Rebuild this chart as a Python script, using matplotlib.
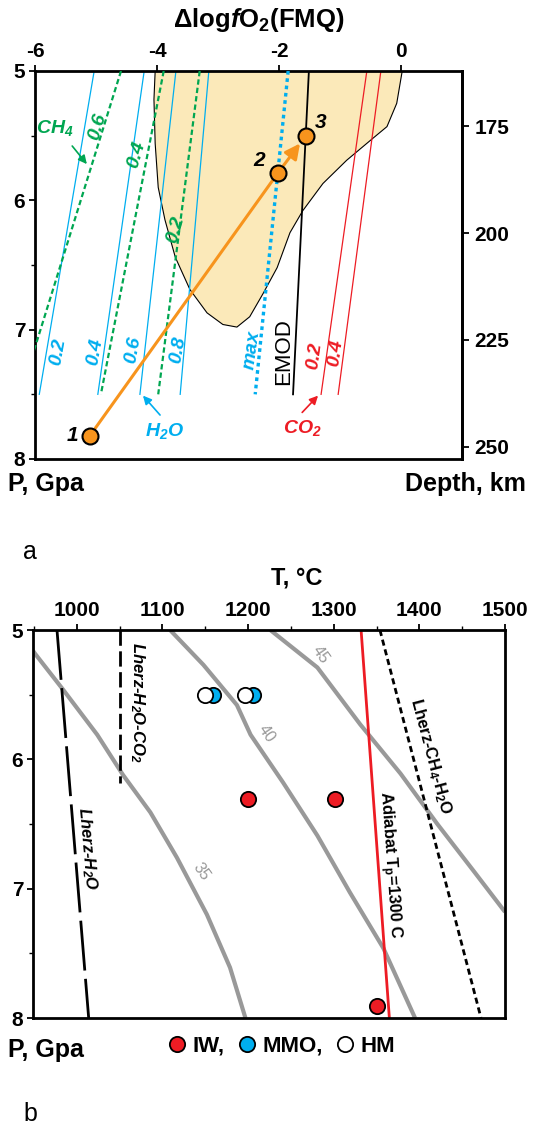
import matplotlib
matplotlib.use('Agg')
import matplotlib.pyplot as plt
from matplotlib.lines import Line2D
from matplotlib.ticker import MultipleLocator

plt.rcParams['font.family'] = ['Liberation Sans', 'DejaVu Sans']
plt.rcParams['axes.unicode_minus'] = False
plt.rcParams['mathtext.default'] = 'regular'
plt.rcParams['mathtext.fontset'] = 'custom'
plt.rcParams['mathtext.it'] = 'Liberation Sans:italic:bold'
plt.rcParams['mathtext.rm'] = 'Liberation Sans:bold'

# ---------------- panel a data ----------------
fmq_ticks = [-6, -4, -2, 0]
p_ticks = [5, 6, 7, 8]
depth_ticks = [175, 200, 225, 250]

# isopleths: dFMQ at 5 GPa (top) and at 7.5 GPa (bottom)
h2o_labels = ['0.2', '0.4', '0.6', '0.8']
h2o_top = [-5.03, -4.21, -3.69, -3.15]
h2o_bot = [-5.93, -4.97, -4.28, -3.62]
ch4_labels = ['0.6', '0.4', '0.2']
ch4_top = [-4.59, -3.89, -3.30]
ch4_bot = [-6.24, -4.92, -3.98]
co2_labels = ['0.2', '0.4']
co2_top = [-0.56, -0.33]
co2_bot = [-1.31, -1.03]
max_top, max_bot = -1.85, -2.39
emod_top, emod_bot = -1.51, -1.77
iso_p = [5.0, 7.5]

# field outline
field_x = [-4.03, -4.05, -4.03, -3.98, -3.87, -3.70, -3.46, -3.18, -2.92, -2.69, -2.48,
           -2.26, -2.03, -1.82, -1.61, -1.28, -0.89, -0.46, -0.23, -0.07, 0.02]
field_p = [5.00, 5.22, 5.56, 5.90, 6.15, 6.44, 6.69, 6.87, 6.96, 6.98, 6.90,
           6.72, 6.52, 6.25, 6.08, 5.87, 5.69, 5.52, 5.43, 5.25, 5.00]

# path points 1-3
path_x = [-5.10, -2.02, -1.56]
path_p = [7.82, 5.79, 5.50]
path_names = ['1', '2', '3']

# ---------------- panel b data ----------------
t_ticks = [1000, 1100, 1200, 1300, 1400, 1500]
geo_labels = ['35', '40', '45']
geo35_t = [949, 951, 984, 1024, 1054, 1086, 1117, 1152, 1179, 1197]
geo35_p = [5.16, 5.18, 5.46, 5.81, 6.12, 6.41, 6.76, 7.20, 7.61, 8.0]
geo40_t = [1109, 1148, 1187, 1203, 1241, 1281, 1319, 1358, 1395]
geo40_p = [5.0, 5.27, 5.58, 5.81, 6.18, 6.59, 7.03, 7.46, 8.0]
geo45_t = [1226, 1281, 1331, 1378, 1421, 1463, 1500]
geo45_p = [5.0, 5.29, 5.73, 6.11, 6.50, 6.86, 7.18]

lherz_h2o_t = [977, 1014]
lherz_h2o_p = [5.0, 8.0]
lherz_h2o_co2_t = [1051, 1051]
lherz_h2o_co2_p = [5.0, 6.18]
lherz_ch4_t = [1354, 1472]
lherz_ch4_p = [5.0, 8.0]
adiabat_t = [1332, 1365]
adiabat_p = [5.0, 8.0]

iw_t = [1200, 1301, 1351]
iw_p = [6.31, 6.31, 7.91]
mmo_t = [1159, 1206]
mmo_p = [5.5, 5.5]
hm_t = [1150, 1197]
hm_p = [5.5, 5.5]

BLUE = '#00aeef'
GREEN = '#00a651'
RED = '#ed1c24'
ORANGE = '#f7941d'
TAN = '#fbe9b9'
GREY = '#999999'

W, H = 533, 1129
fig = plt.figure(figsize=(W / 100, H / 100), dpi=100)


def style_axes(ax):
    for s in ax.spines.values():
        s.set_linewidth(2)
    ax.tick_params(axis='both', which='major', direction='out', length=4, width=1.3,
                   labelsize=15, pad=3)
    ax.tick_params(axis='y', which='minor', direction='out', length=3, width=1)
    for lab in ax.get_xticklabels() + ax.get_yticklabels():
        lab.set_fontweight('bold')


# ================= panel a =================
ax1 = fig.add_axes([35 / W, 1 - 459 / H, 427 / W, 388 / H])
ax1.set_xlim(-6, 1)
ax1.set_ylim(8, 5)
ax1.xaxis.tick_top()
ax1.set_xticks(fmq_ticks)
ax1.set_yticks(p_ticks)
ax1.yaxis.set_minor_locator(MultipleLocator(0.5))
style_axes(ax1)

ax1.fill(field_x, field_p, facecolor=TAN, edgecolor='black', linewidth=0.8,
         joinstyle='round', zorder=1)

for t, b in zip(h2o_top, h2o_bot):
    ax1.plot([t, b], iso_p, color=BLUE, lw=0.9, zorder=2)
for t, b in zip(ch4_top, ch4_bot):
    ax1.plot([t, b], iso_p, color=GREEN, lw=1.6, dashes=(2.4, 1.4), zorder=3)
for t, b in zip(co2_top, co2_bot):
    ax1.plot([t, b], iso_p, color=RED, lw=0.9, zorder=2)
ax1.plot([max_top, max_bot], iso_p, color=BLUE, lw=2.4, dashes=(1.1, 1.1), zorder=3)
ax1.plot([emod_top, emod_bot], iso_p, color='black', lw=1.3, zorder=3)

# path 1 -> 3
ax1.plot(path_x[:2], path_p[:2], color=ORANGE, lw=2.2, zorder=4)
ax1.annotate('', xy=(path_x[2], path_p[2]), xytext=(path_x[1], path_p[1]),
             arrowprops=dict(arrowstyle='-|>,head_length=0.9,head_width=0.45',
                             color=ORANGE, lw=2.2, shrinkA=0, shrinkB=7), zorder=4)
ax1.plot(path_x, path_p, 'o', ms=11.5, mfc=ORANGE, mec='black', mew=1.5, zorder=5)
for (dx, dy), x, p, n in zip([(-0.28, 0.0), (-0.3, -0.1), (0.24, -0.1)], path_x, path_p, path_names):
    ax1.text(x + dx, p + dy, n, fontsize=15, fontweight='bold', style='italic',
             ha='center', va='center', zorder=6)

lab = dict(fontsize=14, fontweight='bold', style='italic', ha='center', va='center')
ch4_lab_pos = [(-4.98, 5.43), (-4.33, 5.65), (-3.70, 6.23)]
for (x, p), t in zip(ch4_lab_pos, ch4_labels):
    ax1.text(x, p, t, color=GREEN, rotation=74, **lab)
h2o_lab_pos = [(-5.62, 7.17), (-5.02, 7.17), (-4.39, 7.16), (-3.66, 7.16)]
for (x, p), t in zip(h2o_lab_pos, h2o_labels):
    ax1.text(x, p, t, color=BLUE, rotation=80, **lab)
ax1.text(-2.44, 7.16, 'max', color=BLUE, rotation=82, **lab)
co2_lab_pos = [(-1.41, 7.2), (-1.08, 7.18)]
for (x, p), t in zip(co2_lab_pos, co2_labels):
    ax1.text(x, p, t, color=RED, rotation=82, **lab)
ax1.text(-1.93, 7.17, 'EMOD', fontsize=16, rotation=90, ha='center', va='center')

ax1.text(-5.67, 5.44, 'CH$_4$', color=GREEN, **lab)
ax1.annotate('', xy=(-5.15, 5.72), xytext=(-5.39, 5.58),
             arrowprops=dict(arrowstyle='-|>,head_length=0.5,head_width=0.25',
                             color=GREEN, lw=1.2, shrinkA=0, shrinkB=0))
ax1.text(-3.87, 7.78, 'H$_2$O', color=BLUE, **lab)
ax1.annotate('', xy=(-4.23, 7.51), xytext=(-3.95, 7.66),
             arrowprops=dict(arrowstyle='-|>,head_length=0.5,head_width=0.25',
                             color=BLUE, lw=1.2, shrinkA=0, shrinkB=0))
ax1.text(-1.61, 7.76, 'CO$_2$', color=RED, **lab)
ax1.annotate('', xy=(-1.36, 7.51), xytext=(-1.62, 7.64),
             arrowprops=dict(arrowstyle='-|>,head_length=0.5,head_width=0.25',
                             color=RED, lw=1.2, shrinkA=0, shrinkB=0))


def p2d(p):
    return 30.3 * p + 10.5


def d2p(d):
    return (d - 10.5) / 30.3


sec = ax1.secondary_yaxis('right', functions=(p2d, d2p))
sec.set_yticks(depth_ticks)
sec.tick_params(direction='out', length=5, width=1.3, labelsize=15, pad=4)
sec.spines['right'].set_linewidth(2)
for t in sec.get_yticklabels():
    t.set_fontweight('bold')

fig.text(259 / W, 1 - 20 / H, r'$\Delta$log$\mathit{f}$O$_2$(FMQ)', fontsize=18.5,
         fontweight='bold', ha='center', va='center')
fig.text(8 / W, 1 - 484 / H, 'P, Gpa', fontsize=18, fontweight='bold', ha='left', va='center')
fig.text(526 / W, 1 - 484 / H, 'Depth, km', fontsize=18, fontweight='bold', ha='right', va='center')
fig.text(30 / W, 1 - 552 / H, 'a', fontsize=18, ha='center', va='center')

# ================= panel b =================
ax2 = fig.add_axes([33 / W, 1 - 1018 / H, 472 / W, 388 / H])
ax2.set_xlim(949, 1500)
ax2.set_ylim(8, 5)
ax2.xaxis.tick_top()
ax2.set_xticks(t_ticks)
ax2.set_yticks(p_ticks)
ax2.xaxis.set_minor_locator(MultipleLocator(50))
ax2.yaxis.set_minor_locator(MultipleLocator(0.5))
style_axes(ax2)
ax2.tick_params(axis='x', which='minor', direction='out', length=3, width=1)

for tt, pp in [(geo35_t, geo35_p), (geo40_t, geo40_p), (geo45_t, geo45_p)]:
    ax2.plot(tt, pp, color=GREY, lw=3, solid_capstyle='butt', solid_joinstyle='round', zorder=1)
geo_lab_pos = [(1145, 6.87), (1222, 5.80), (1285, 5.19)]
for (x, p), t in zip(geo_lab_pos, geo_labels):
    ax2.text(x, p, t, color=GREY, fontsize=11.5, rotation=-55, ha='center', va='center')

ax2.plot(lherz_h2o_t, lherz_h2o_p, color='black', lw=2, dashes=(18, 3), zorder=2)
ax2.plot(lherz_h2o_co2_t, lherz_h2o_co2_p, color='black', lw=2, dashes=(5.5, 2), zorder=2)
ax2.plot(lherz_ch4_t, lherz_ch4_p, color='black', lw=2, dashes=(2.2, 1.4), zorder=2)
ax2.plot(adiabat_t, adiabat_p, color=RED, lw=2, zorder=2)

lab2 = dict(fontsize=12, fontweight='bold', ha='center', va='center')
ax2.text(1071, 5.56, 'Lherz-H$_2$O-CO$_2$', style='italic', rotation=-90, **lab2)
ax2.text(1012, 6.69, 'Lherz-H$_2$O', style='italic', rotation=-85, **lab2)
ax2.text(1413, 5.98, 'Lherz-CH$_4$-H$_2$O', rotation=-75, **lab2)
ax2.text(1364, 6.82, 'Adiabat T$_p$=1300 C', rotation=-86, **lab2)

ms = 11
ax2.plot(mmo_t, mmo_p, 'o', ms=ms, mfc=BLUE, mec='black', mew=1.3, zorder=5)
ax2.plot(hm_t, hm_p, 'o', ms=ms, mfc='white', mec='black', mew=1.3, zorder=6)
ax2.plot(iw_t, iw_p, 'o', ms=ms, mfc=RED, mec='black', mew=1.3, zorder=5)

handles = [Line2D([], [], ls='none', marker='o', ms=ms, mfc=c, mec='black', mew=1.3)
           for c in (RED, BLUE, 'white')]
fig.legend(handles, ['IW,', 'MMO,', 'HM'], loc='center', bbox_to_anchor=(282 / W, 1 - 1046 / H),
           ncol=3, frameon=False, handlelength=0.8, handletextpad=0.3, columnspacing=0.6,
           prop=dict(size=16, weight='bold'))

fig.text(297 / W, 1 - 578 / H, 'T, °C', fontsize=17, fontweight='bold', ha='center', va='center')
fig.text(8 / W, 1 - 1050 / H, 'P, Gpa', fontsize=18, fontweight='bold', ha='left', va='center')
fig.text(30 / W, 1 - 1114 / H, 'b', fontsize=18, ha='center', va='center')

fig.savefig('out.png', dpi=100)
